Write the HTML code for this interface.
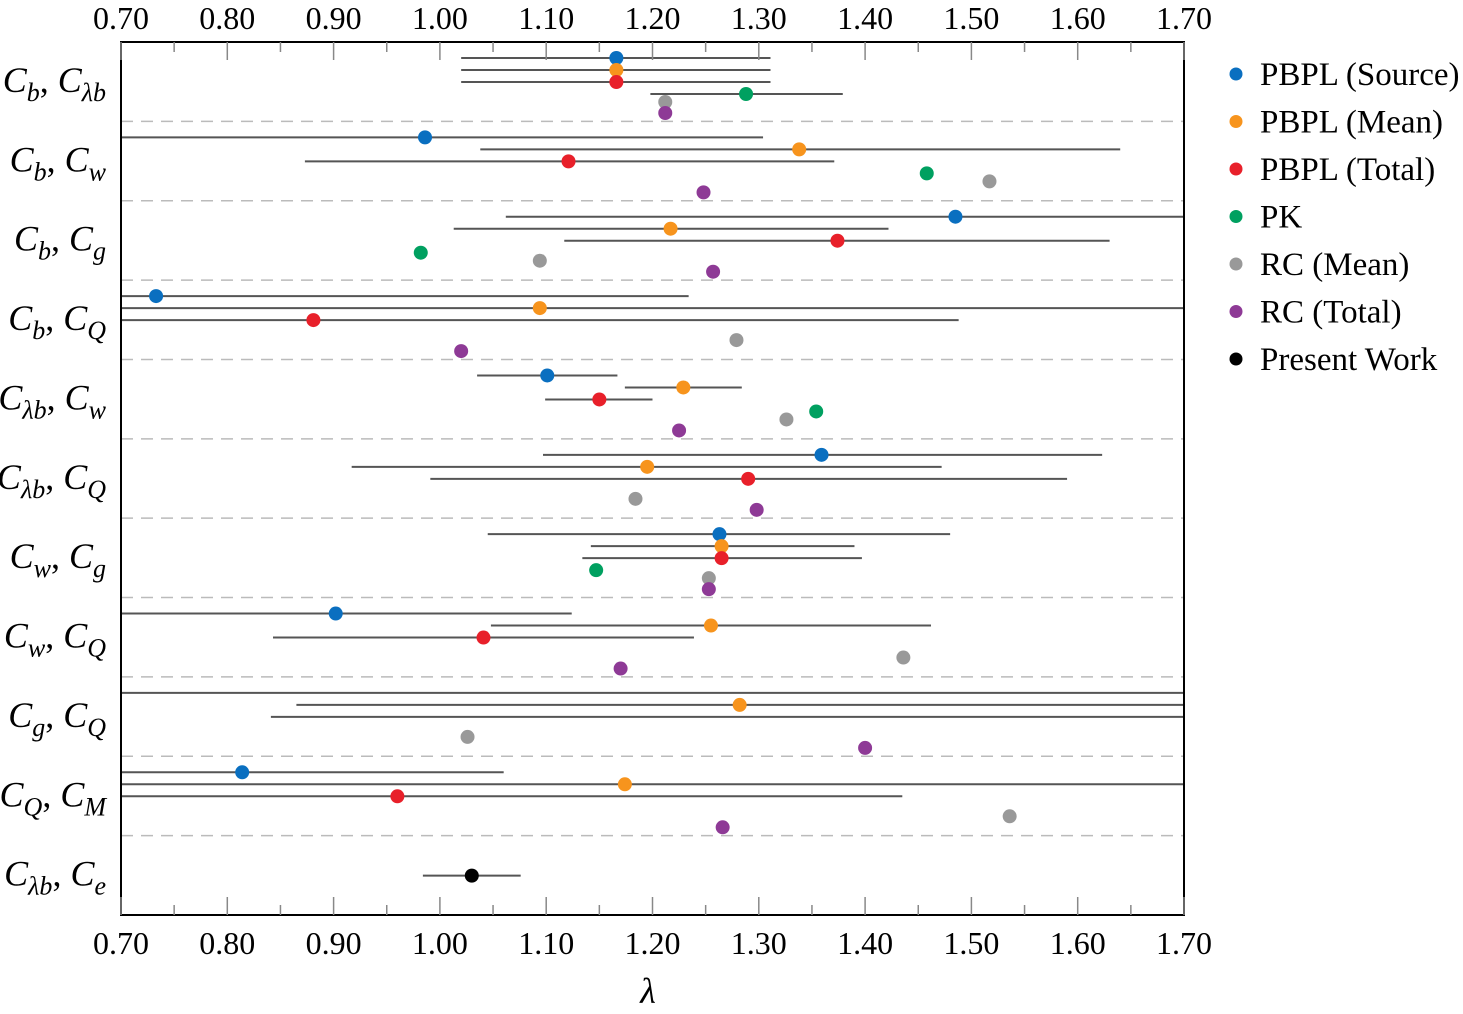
<!DOCTYPE html>
<html><head><meta charset="utf-8"><style>
html,body{margin:0;padding:0;background:#fff;}
svg{display:block;font-family:"Liberation Serif",serif;}
</style></head><body>
<svg id="chart" width="1463" height="1014" viewBox="0 0 1463 1014" xmlns="http://www.w3.org/2000/svg">
<defs><clipPath id="pc"><rect x="121" y="42" width="1063" height="873"/></clipPath></defs>
<g id="grid"></g>
<g id="marks" clip-path="url(#pc)"></g>
<g id="axes"></g>
<g id="legend"></g>
</svg>
<script>
// ---- data ----
const groupLabels = [["b","λb"],["b","w"],["b","g"],["b","Q"],["λb","w"],["λb","Q"],["w","g"],["w","Q"],["g","Q"],["Q","M"],["λb","e"]];
const seriesNames = ["PBPL (Source)","PBPL (Mean)","PBPL (Total)","PK","RC (Mean)","RC (Total)","Present Work"];
const seriesColors = ["#0a6fc0","#f7941d","#e8202a","#00a060","#999999","#8e3a96","#000000"];
const blueVals   = [1.166,0.986,1.485,0.733,1.101,1.359,1.263,0.902,1.90,0.814,null];
const blueLo     = [1.020,0.60,1.062,0.60,1.035,1.097,1.045,0.60,0.50,0.60,null];
const blueHi     = [1.311,1.304,1.90,1.234,1.167,1.623,1.480,1.124,3.00,1.060,null];
const orangeVals = [1.166,1.338,1.217,1.094,1.229,1.195,1.265,1.255,1.282,1.174,null];
const orangeLo   = [1.020,1.038,1.013,0.50,1.174,0.917,1.142,1.048,0.865,0.50,null];
const orangeHi   = [1.311,1.640,1.422,1.90,1.284,1.472,1.390,1.462,1.90,1.90,null];
const redVals    = [1.166,1.121,1.374,0.881,1.150,1.290,1.265,1.041,1.80,0.960,null];
const redLo      = [1.020,0.873,1.117,0.60,1.099,0.991,1.134,0.843,0.841,0.60,null];
const redHi      = [1.311,1.371,1.630,1.488,1.200,1.590,1.397,1.239,2.50,1.435,null];
const greenVals  = [1.288,1.458,0.982,null,1.354,null,1.147,null,null,null,null];
const greenLo    = [1.198,null,null,null,null,null,null,null,null,null,null];
const greenHi    = [1.379,null,null,null,null,null,null,null,null,null,null];
const grayVals   = [1.212,1.517,1.094,1.279,1.326,1.184,1.253,1.436,1.026,1.536,null];
const purpleVals = [1.212,1.248,1.257,1.020,1.225,1.298,1.253,1.170,1.400,1.266,null];
const blackVals  = [null,null,null,null,null,null,null,null,null,null,1.030];
const blackLo    = [null,null,null,null,null,null,null,null,null,null,0.984];
const blackHi    = [null,null,null,null,null,null,null,null,null,null,1.076];
const xTicks = ["0.70","0.80","0.90","1.00","1.10","1.20","1.30","1.40","1.50","1.60","1.70"];

// ---- layout ----
const X0=121,X1=1184,Y0=42,Y1=915,xMin=0.7,xMax=1.7;
const gH=(Y1-Y0)/11;
const slotOff=[16,28,40,52,60,71,40];
const xs=v=>X0+(v-xMin)/(xMax-xMin)*(X1-X0);
const ys=(g,s)=>Y0+g*gH+slotOff[s];
const NS="http://www.w3.org/2000/svg";
function mk(tag,attrs,parent){const e=document.createElementNS(NS,tag);for(const k in attrs)e.setAttribute(k,attrs[k]);parent.appendChild(e);return e;}
const grid=document.getElementById('grid'),marks=document.getElementById('marks'),axes=document.getElementById('axes'),legend=document.getElementById('legend');

for(let g=1;g<11;g++){
  const y=Y0+g*gH;
  const l=mk('line',{x1:X0,x2:X1,y1:y,y2:y,stroke:'#bbb','stroke-width':1.5,'stroke-dasharray':'12 8'},grid);
  
  
}

const series=[
 [blueVals,blueLo,blueHi],[orangeVals,orangeLo,orangeHi],[redVals,redLo,redHi],
 [greenVals,greenLo,greenHi],[grayVals,null,null],[purpleVals,null,null],[blackVals,blackLo,blackHi]];
series.forEach((s,si)=>{
  const [v,lo,hi]=s;
  v.forEach((val,g)=>{
    const y=ys(g,si);
    if(lo&&lo[g]!=null&&hi[g]!=null){
      const e=mk('line',{x1:xs(lo[g]),x2:xs(hi[g]),y1:y,y2:y,stroke:'#555','stroke-width':2},marks);
      
      
    }
  });
});
series.forEach((s,si)=>{
  const v=s[0];
  v.forEach((val,g)=>{
    if(val==null)return;
    const c=mk('circle',{cx:xs(val),cy:ys(g,si),r:7,fill:seriesColors[si]},marks);
    
    
  });
});

const fr=mk('rect',{x:X0,y:Y0,width:X1-X0,height:Y1-Y0,fill:'none',stroke:'#000','stroke-width':2},axes);


for(let i=0;i<=20;i++){
  const v=xMin+i*0.05,x=xs(v),L=(i%2==0)?18:10;
  mk('line',{x1:x,x2:x,y1:Y0,y2:Y0+L,stroke:'#888','stroke-width':1.5},axes);
  mk('line',{x1:x,x2:x,y1:Y1,y2:Y1-L,stroke:'#888','stroke-width':1.5},axes);
}
xTicks.forEach((t,i)=>{
  const x=xs(parseFloat(t));
  const a=mk('text',{x:x,y:29,'text-anchor':'middle','font-size':32},axes);a.textContent=t;
  
  
  const b=mk('text',{x:x,y:954,'text-anchor':'middle','font-size':32},axes);b.textContent=t;
  
  
});
const xt=mk('text',{x:648,y:1003,'text-anchor':'middle','font-size':36,'font-style':'italic'},axes);xt.textContent='λ';



groupLabels.forEach((p,g)=>{
  const t=mk('text',{x:106,y:Y0+g*gH+50,'text-anchor':'end','font-size':36,'font-style':'italic'},axes);
  
  
  t.innerHTML='C<tspan font-size="26" dy="9">'+p[0]+'</tspan><tspan dy="-9" font-style="normal">, </tspan>C<tspan font-size="26" dy="9">'+p[1]+'</tspan>';
});

seriesNames.forEach((n,i)=>{
  const y=74+i*47.5;
  const c=mk('circle',{cx:1236,cy:y,r:6.5,fill:seriesColors[i]},legend);
  
  
  const t=mk('text',{x:1260,y:y+11,'font-size':33},legend);t.textContent=n;
  
  
});
</script>
</body></html>
